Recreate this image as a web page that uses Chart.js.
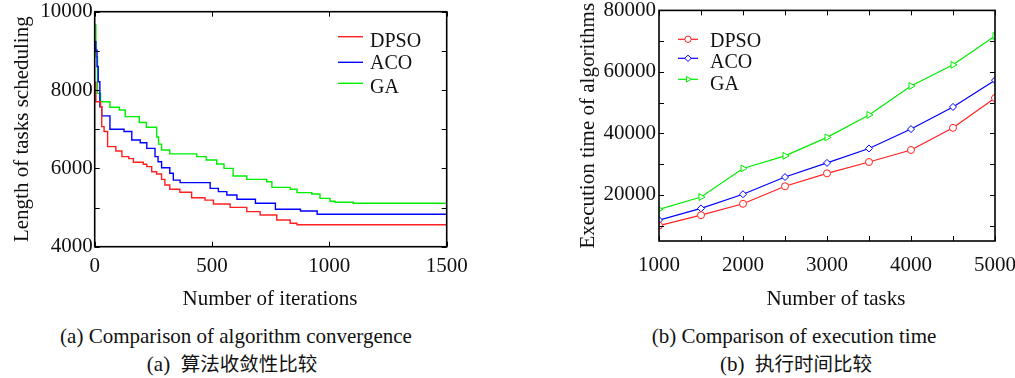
<!DOCTYPE html>
<html>
<head>
<meta charset="utf-8">
<script src="https://cdn.jsdelivr.net/npm/chart.js@4/dist/chart.umd.min.js"></script>
<style>
  html, body { margin: 0; padding: 0; background: #fff; }
  body { width: 1015px; height: 378px; position: relative; overflow: hidden; font-family: "Liberation Serif", "Noto Sans CJK SC", serif; }
  canvas { position: absolute; top: 0; }
  .t { position: absolute; white-space: nowrap; transform: translateX(-50%); font-size: 21px; line-height: 24px; color: #111; }
  .cjk { font-family: "Noto Sans CJK SC", sans-serif; font-size: 19.5px; font-weight: 400; }
</style>
</head>
<body>
<canvas id="c1" width="470" height="315" style="left:0px;width:470px;height:315px"></canvas>
<canvas id="c2" width="450" height="315" style="left:565px;width:450px;height:315px"></canvas>
<div class="t" style="left:270px;top:286px">Number of iterations</div>
<div class="t" style="left:836px;top:286px">Number of tasks</div>
<div class="t" style="left:236px;top:324px">(a) Comparison of algorithm convergence</div>
<div class="t" style="left:232px;top:351px">(a)&nbsp;&nbsp;<span class="cjk">算法收敛性比较</span></div>
<div class="t" style="left:794px;top:324px">(b) Comparison of execution time</div>
<div class="t" style="left:796px;top:351px">(b)&nbsp;&nbsp;<span class="cjk">执行时间比较</span></div>
<script>
// ---------- Data: convergence (left) ----------
const seriesNames = ['DPSO', 'ACO', 'GA'];
const dpsoIter = [0, 5, 25, 30, 40, 55, 90, 116, 145, 165, 207, 222, 243, 264, 285, 299, 320, 363, 413, 470, 506, 577, 648, 705, 776, 833, 862, 1500];
const dpsoLen  = [8200, 7700, 7575, 7065, 6940, 6555, 6445, 6300, 6250, 6155, 6105, 6045, 5915, 5855, 5720, 5575, 5465, 5390, 5250, 5190, 5090, 5005, 4895, 4810, 4680, 4600, 4560, 4560];
const acoIter  = [0, 5, 10, 15, 22, 30, 65, 125, 158, 194, 222, 257, 270, 285, 320, 335, 364, 492, 527, 563, 606, 685, 770, 877, 948, 1500];
const acoLen   = [9235, 9020, 8600, 8213, 7575, 7340, 7000, 6940, 6725, 6655, 6510, 6300, 6170, 6015, 5875, 5700, 5635, 5490, 5405, 5320, 5210, 5110, 4955, 4910, 4830, 4830];
const gaIter   = [0, 5, 12, 25, 65, 105, 130, 190, 220, 264, 272, 285, 320, 435, 475, 520, 551, 590, 648, 733, 755, 833, 862, 925, 960, 1003, 1024, 1102, 1500];
const gaLen    = [9660, 8850, 7915, 7700, 7560, 7490, 7320, 7170, 7050, 6800, 6620, 6470, 6370, 6300, 6215, 6110, 6000, 5805, 5720, 5660, 5515, 5465, 5380, 5345, 5235, 5160, 5134, 5110, 5110];
const iterTicks = [0, 500, 1000, 1500];
const lenTicks = [4000, 5000, 6000, 7000, 8000, 9000, 10000];

// ---------- Data: execution time (right) ----------
const taskCounts = [1000, 1500, 2000, 2500, 3000, 3500, 4000, 4500, 5000];
const dpsoTime = [10000, 13400, 17100, 22800, 27000, 30700, 34600, 41800, 51500];
const acoTime  = [11800, 15600, 20200, 25800, 30400, 35100, 41400, 48600, 57300];
const gaTime   = [15300, 19300, 28600, 32700, 38700, 46000, 55400, 62300, 71700];
const taskTicks = [1000, 1500, 2000, 2500, 3000, 3500, 4000, 4500, 5000];
const timeTicks = [10000, 20000, 30000, 40000, 50000, 60000, 70000, 80000];

const colors = ['#ff2020', '#0000ff', '#00ee00'];
const FONT = '"Liberation Serif", "Times New Roman", serif';

function pts(xs, ys) { return xs.map((x, i) => ({ x: x, y: ys[i] })); }
function setTicks(list) { return function (s) { s.ticks = list.map(v => ({ value: v })); }; }

// frame + inward ticks on all four sides
const framePlugin = {
  id: 'frame',
  afterDatasetsDraw(chart) {
    const { ctx, chartArea: a, scales } = chart;
    const L = 5;
    ctx.save();
    ctx.strokeStyle = '#000';
    ctx.lineWidth = 1;
    ctx.beginPath();
    scales.x.ticks.forEach(t => {
      const px = Math.round(scales.x.getPixelForValue(t.value)) + 0.5;
      ctx.moveTo(px, a.bottom); ctx.lineTo(px, a.bottom - L);
      ctx.moveTo(px, a.top); ctx.lineTo(px, a.top + L);
    });
    scales.y.ticks.forEach(t => {
      const py = Math.round(scales.y.getPixelForValue(t.value)) + 0.5;
      ctx.moveTo(a.left, py); ctx.lineTo(a.left + L, py);
      ctx.moveTo(a.right, py); ctx.lineTo(a.right - L, py);
    });
    ctx.stroke();
    ctx.lineWidth = 1.6;
    ctx.strokeRect(a.left, a.top, a.right - a.left, a.bottom - a.top);
    ctx.restore();
  }
};

// legend drawn inside the plot
const legendPlugin = {
  id: 'inLegend',
  afterDraw(chart, args, opts) {
    const ctx = chart.ctx;
    ctx.save();
    chart.data.datasets.forEach((ds, i) => {
      const ly = opts.lineY[i];
      ctx.strokeStyle = ds.borderColor;
      ctx.lineWidth = ds.borderWidth;
      ctx.beginPath();
      ctx.moveTo(opts.x0, ly); ctx.lineTo(opts.x1, ly);
      ctx.stroke();
      if (ds.pointStyle) {
        ctx.fillStyle = '#fff';
        ctx.lineWidth = 1;
        Chart.helpers.drawPoint(ctx, { pointStyle: ds.pointStyle, rotation: ds.pointRotation || 0, radius: 3.2, borderWidth: 1 }, (opts.x0 + opts.x1) / 2, ly);
      }
      ctx.fillStyle = '#111';
      ctx.font = opts.fontSize + 'px ' + FONT;
      ctx.textBaseline = 'alphabetic';
      ctx.textAlign = 'left';
      ctx.fillText(ds.label, opts.tx, opts.textY[i]);
    });
    ctx.restore();
  }
};

function fixY(w) { return function (s) { s.width = w; s.paddingTop = 0; s.paddingBottom = 0; s.paddingLeft = 0; s.paddingRight = 0; }; }
function fixX(h) { return function (s) { s.height = h; s.paddingTop = 0; s.paddingBottom = 0; s.paddingLeft = 0; s.paddingRight = 0; }; }

const tickFont = { family: FONT, size: 21 };

// ---------- Left chart ----------
new Chart(document.getElementById('c1'), {
  type: 'line',
  data: {
    datasets: [
      { label: seriesNames[0], data: pts(dpsoIter, dpsoLen), borderColor: colors[0], borderWidth: 1.4, stepped: 'before', pointRadius: 0 },
      { label: seriesNames[1], data: pts(acoIter, acoLen), borderColor: colors[1], borderWidth: 1.4, stepped: 'before', pointRadius: 0 },
      { label: seriesNames[2], data: pts(gaIter, gaLen), borderColor: colors[2], borderWidth: 1.4, stepped: 'before', pointRadius: 0 }
    ]
  },
  options: {
    responsive: false, animation: false, devicePixelRatio: 1,
    layout: { padding: { left: 0, top: 11.7, right: 23.3, bottom: 0 } },
    plugins: {
      legend: { display: false }, tooltip: { enabled: false },
      inLegend: { x0: 338, x1: 363, tx: 370, fontSize: 20, lineY: [36.7, 62.3, 83.3], textY: [46.7, 69.3, 92.7] }
    },
    scales: {
      x: {
        type: 'linear', min: 0, max: 1500,
        afterBuildTicks: setTicks(iterTicks),
        ticks: { font: tickFont, color: '#111', padding: 7, maxRotation: 0, autoSkip: false,
          callback: v => String(v) },
        grid: { display: false, drawTicks: false }, border: { display: false },
        afterFit: fixX(68.3)
      },
      y: {
        type: 'linear', min: 4000, max: 10000,
        afterBuildTicks: setTicks(lenTicks),
        ticks: { font: tickFont, color: '#111', padding: 2, autoSkip: false,
          callback: v => (v % 2000 === 0 ? String(v) : '') },
        grid: { display: false, drawTicks: false }, border: { display: false },
        title: { display: true, text: 'Length of tasks scheduling', font: { family: FONT, size: 21, lineHeight: 1.2 }, color: '#111', padding: { top: 10, bottom: 0 } },
        afterFit: fixY(94.7)
      }
    }
  },
  plugins: [framePlugin, legendPlugin]
});

// ---------- Right chart ----------
new Chart(document.getElementById('c2'), {
  type: 'line',
  data: {
    datasets: [
      { label: seriesNames[0], data: pts(taskCounts, dpsoTime), borderColor: colors[0], borderWidth: 1.2, pointStyle: 'circle', pointRadius: 3.5, pointBorderWidth: 1, pointBackgroundColor: '#fff', pointBorderColor: colors[0] },
      { label: seriesNames[1], data: pts(taskCounts, acoTime), borderColor: colors[1], borderWidth: 1.2, pointStyle: 'rectRot', pointRadius: 3.5, pointBorderWidth: 1, pointBackgroundColor: '#fff', pointBorderColor: colors[1] },
      { label: seriesNames[2], data: pts(taskCounts, gaTime), borderColor: colors[2], borderWidth: 1.2, pointStyle: 'triangle', pointRotation: 90, pointRadius: 4, pointBorderWidth: 1, pointBackgroundColor: '#fff', pointBorderColor: colors[2] }
    ]
  },
  options: {
    responsive: false, animation: false, devicePixelRatio: 1,
    layout: { padding: { left: 0, top: 10.4, right: 20, bottom: 0 } },
    plugins: {
      legend: { display: false }, tooltip: { enabled: false },
      inLegend: { x0: 113, x1: 133, tx: 145, fontSize: 20, lineY: [39.3, 58.3, 79.3], textY: [47.4, 67.9, 89.9] }
    },
    scales: {
      x: {
        type: 'linear', min: 1000, max: 5000,
        afterBuildTicks: setTicks(taskTicks),
        ticks: { font: tickFont, color: '#111', padding: 12, maxRotation: 0, autoSkip: false,
          callback: v => (v % 1000 === 0 ? String(v) : '') },
        grid: { display: false, drawTicks: false }, border: { display: false },
        afterFit: fixX(74)
      },
      y: {
        type: 'linear', min: 5000, max: 80000,
        afterBuildTicks: setTicks(timeTicks),
        ticks: { font: tickFont, color: '#111', padding: 3, autoSkip: false,
          callback: v => (v % 20000 === 0 ? String(v) : '') },
        grid: { display: false, drawTicks: false }, border: { display: false },
        title: { display: true, text: 'Execution time of algorithms', font: { family: FONT, size: 21, lineHeight: 1.2 }, color: '#111', padding: { top: 11, bottom: 0 } },
        afterFit: fixY(94)
      }
    }
  },
  plugins: [framePlugin, legendPlugin]
});
</script>
</body>
</html>
